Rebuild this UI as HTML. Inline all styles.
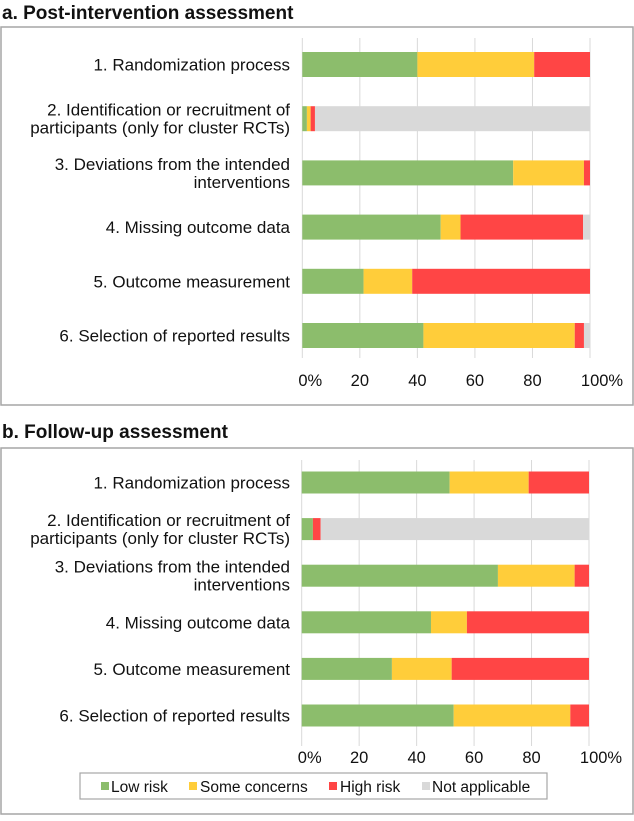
<!DOCTYPE html>
<html><head><meta charset="utf-8"><style>
body{margin:0;background:#fff;font-family:"Liberation Sans",sans-serif;}
svg text{font-family:"Liberation Sans",sans-serif;}
</style></head><body>
<svg id="c" width="634" height="816" xmlns="http://www.w3.org/2000/svg"></svg>
<script>
const categories=["1. Randomization process","2. Identification or recruitment of|participants (only for cluster RCTs)","3. Deviations from the intended|interventions","4. Missing outcome data","5. Outcome measurement","6. Selection of reported results"];
const seriesNames=["Low risk","Some concerns","High risk","Not applicable"];
const colors=["#8cbd6c","#ffcd3a","#ff4545","#d9d9d9"];
const aLow=[40.0,1.6,73.3,48.1,21.3,42.1];
const aSome=[40.6,1.3,24.6,6.9,16.9,52.6];
const aHigh=[19.4,1.5,2.1,42.6,61.8,3.2];
const aNA=[0,95.6,0,2.4,0,2.1];
const bLow=[51.5,3.9,68.3,45.0,31.4,52.9];
const bSome=[27.5,0,26.7,12.5,20.8,40.6];
const bHigh=[21.0,2.7,5.0,42.5,47.8,6.5];
const bNA=[0,93.4,0,0,0,0];
const ticks=[0,20,40,60,80,100];
const tickLabels=["0%","20","40","60","80","100%"];
const svg=document.getElementById('c');
const NS="http://www.w3.org/2000/svg";
function mk(t,a,p){const e=document.createElementNS(NS,t);for(const k in a)e.setAttribute(k,a[k]);(p||svg).appendChild(e);return e;}
function panel(cfg){
 const g=mk('g',{});
 
 
 const t=mk('text',{x:2,y:cfg.titleY,'font-size':19,'font-weight':'bold',fill:'#111'},g);t.textContent=cfg.title;
 
 
 const box=mk('rect',{x:1,y:cfg.boxTop,width:632,height:cfg.boxBot-cfg.boxTop,fill:'none',stroke:'#a6a6a6','stroke-width':1.5},g);
 
 
 const x=v=>cfg.x0+(cfg.x1-cfg.x0)*v/100;
 ticks.forEach((tv,i)=>{
  const l=mk('line',{x1:x(tv),x2:x(tv),y1:cfg.gTop,y2:cfg.gBot,stroke:'#d9d9d9','stroke-width':1},g);
  
  
  const tl=mk('text',{x:x(tv)+(i==0?8:i==5?12:0),y:cfg.tickY,'font-size':16.5,'text-anchor':'middle',fill:'#111'},g);
  tl.textContent=tickLabels[i];
  
  
 });
 const series=cfg.series;
 categories.forEach((c,i)=>{
  const yc=cfg.y0+i*cfg.step;
  let acc=0;
  series.forEach((s,k)=>{
   const v=s[i];
   if(v>0){
    const r=mk('rect',{x:x(acc),y:yc-cfg.bh/2,width:x(acc+v)-x(acc),height:cfg.bh,fill:colors[k]},g);
    
    
   }
   acc+=v;
  });
  const lines=c.split('|');
  lines.forEach((ln,j)=>{
   const tt=mk('text',{x:290,y:yc+6+(j-(lines.length-1)/2)*18,'font-size':17,'text-anchor':'end',fill:'#111'},g);
   tt.textContent=ln;
   
   
  });
 });
}
panel({name:'panel-a',title:'a. Post-intervention assessment',titleY:19,boxTop:27,boxBot:405,x0:302.3,x1:590,gTop:38,gBot:358,tickY:386,y0:64.5,step:54.2,bh:25,series:[aLow,aSome,aHigh,aNA]});
panel({name:'panel-b',title:'b. Follow-up assessment',titleY:438,boxTop:448,boxBot:814,x0:301.7,x1:589,gTop:460,gBot:746,tickY:763,y0:482.5,step:46.6,bh:22,series:[bLow,bSome,bHigh,bNA]});
const lg=mk('g',{});


mk('rect',{x:80,y:773,width:467,height:26,fill:'#fff',stroke:'#a6a6a6','stroke-width':1.2},lg);
const lx=[101,189,329,422];
const tx=[111,200,340,432];
seriesNames.forEach((n,k)=>{
 const s=mk('rect',{x:lx[k],y:782,width:8,height:8,fill:colors[k]},lg);
 
 
 const t=mk('text',{x:tx[k],y:792,'font-size':15.5,fill:'#111'},lg);
 t.textContent=n;
 
 
});
</script>
</body></html>
